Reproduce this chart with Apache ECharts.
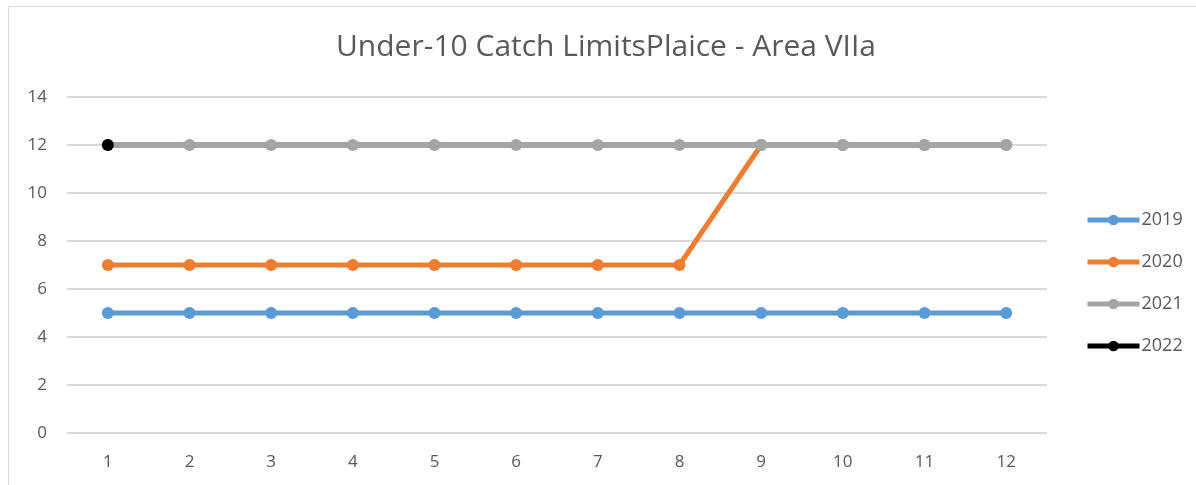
<!DOCTYPE html>
<html>
<head>
<meta charset="utf-8">
<script src="https://cdn.jsdelivr.net/npm/echarts@6/dist/echarts.min.js"></script>
<style>
    html, body { margin: 0; padding: 0; background: #fff; }
    #chart { width: 1196px; height: 485px; }
</style>
</head>
<body>
<div id="chart"></div>
<script>
var months = ['1', '2', '3', '4', '5', '6', '7', '8', '9', '10', '11', '12'];
var years = ['2019', '2020', '2021', '2022'];
var limits2019 = [5, 5, 5, 5, 5, 5, 5, 5, 5, 5, 5, 5];
var limits2020 = [7, 7, 7, 7, 7, 7, 7, 7, 12, 12, 12, 12];
var limits2021 = [12, 12, 12, 12, 12, 12, 12, 12, 12, 12, 12, 12];
var limits2022 = [12];
var colors = ['#5b9bd5', '#ed7d31', '#a5a5a5', '#000000'];

var myChart = echarts.init(document.getElementById('chart'));

function makeSeries(name, data, color, z, w) {
    return {
        name: name,
        type: 'line',
        z: z,
        data: data,
        symbol: 'circle',
        symbolSize: 12,
        lineStyle: { color: color, width: w },
        itemStyle: { color: color },
        animation: false
    };
}

var option = {
    title: {
        text: 'Under-10 Catch LimitsPlaice - Area VIIa',
        left: 331,
        top: 27,
        textStyle: {
            fontFamily: 'Open Sans',
            fontSize: 30,
            fontWeight: 'normal',
            color: '#595959'
        }
    },
    legend: {
        data: years,
        orient: 'vertical',
        left: 1080,
        top: 206,
        itemGap: 24,
        itemWidth: 52,
        itemHeight: 13,
        lineStyle: { width: 5 },
        textStyle: { fontFamily: 'Open Sans', fontSize: 18, color: '#595959', padding: [0, 0, 0, -3] }
    },
    // 336px high so whole values land on whole pixels
    grid: { left: 67, right: 149, top: 97, bottom: 52 },
    graphic: [{
        type: 'rect',
        shape: { x: 8.5, y: 6.5, width: 1400, height: 800 },
        style: { fill: 'none', stroke: '#d9d9d9', lineWidth: 1 },
        silent: true
    }],
    xAxis: {
        type: 'category',
        data: months,
        axisLine: { show: false },
        axisTick: { show: false },
        axisLabel: { fontFamily: 'Open Sans', fontSize: 17, color: '#595959', margin: 21 }
    },
    yAxis: {
        type: 'value',
        min: 0,
        max: 14,
        interval: 2,
        axisLine: { show: false },
        axisTick: { show: false },
        axisLabel: { fontFamily: 'Open Sans', fontSize: 17, color: '#595959', margin: 20 },
        splitLine: { lineStyle: { color: '#d9d9d9', width: 2 } }
    },
    series: [
        makeSeries('2019', limits2019, colors[0], 2, 5),
        makeSeries('2020', limits2020, colors[1], 2, 5),
        makeSeries('2021', limits2021, colors[2], 3, 6),
        makeSeries('2022', limits2022, colors[3], 4, 5)
    ]
};
myChart.setOption(option);
</script>
</body>
</html>
